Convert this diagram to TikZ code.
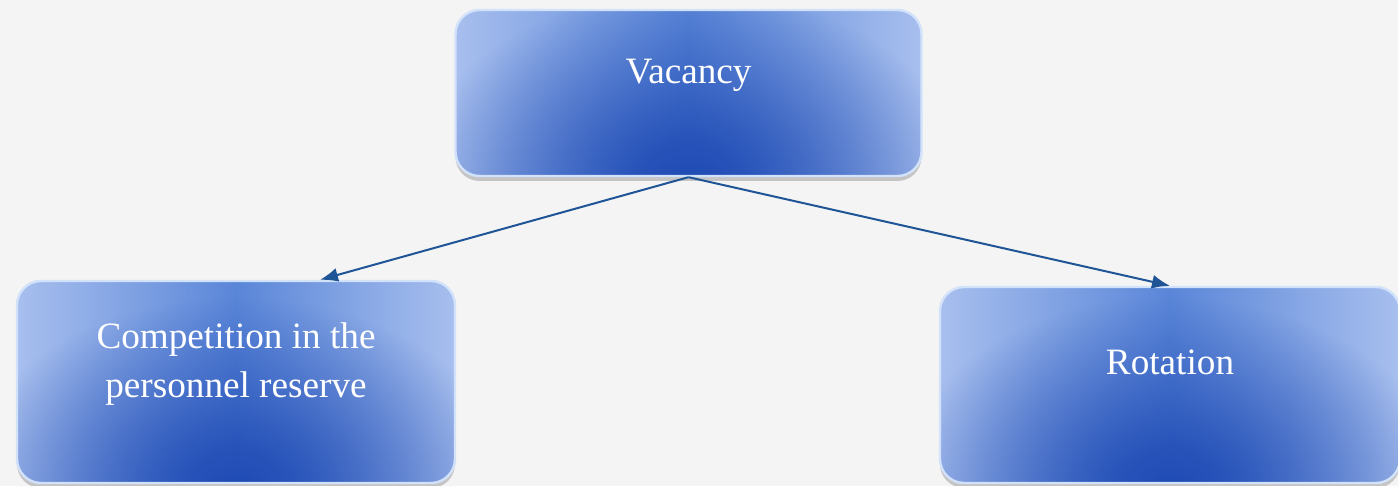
\documentclass[tikz,border=0pt]{standalone}
\usepackage{fontspec}
\setmainfont{Liberation Serif}
\usetikzlibrary{positioning, arrows.meta, shadows, fadings}
\definecolor{boxdark}{HTML}{1E4AB4}
\definecolor{boxmid}{HTML}{5A86D8}
\definecolor{boxedge}{HTML}{A8BFEE}
\definecolor{boxrim}{HTML}{D2E2FA}
\definecolor{arrowblue}{HTML}{1F5596}
\definecolor{bgpaper}{HTML}{F4F4F4}

% soft glow, opaque in the middle, gone at the rim
\pgfdeclareradialshading{glowshade}{\pgfpointorigin}{color(0bp)=(white); color(5bp)=(white!85!black); color(23bp)=(black); color(50bp)=(black)}
\pgfdeclarefading{glowfade}{\pgfuseshading{glowshade}}

\begin{document}
\begin{tikzpicture}[x=0.5pt, y=-0.5pt,
        % style for the blue boxes
        box/.style={
            rounded corners=12pt,
            draw=boxrim,
            line width=1.2pt,
            left color=boxedge, right color=boxedge, middle color=boxmid,
            path picture={\fill[boxdark, path fading=glowfade]
                ([yshift=-4pt]path picture bounding box.south) ellipse [x radius=150pt, y radius=105pt];},
            drop shadow={shadow xshift=0pt, shadow yshift=-2.5pt, opacity=0.4},
            text=white,
            font=\fontsize{18.6}{24.5}\selectfont,
            align=center
        },
        link/.style={draw=arrowblue, line width=1pt, -{Latex[length=9pt, width=7pt]}}
    ]

        % paper
        \fill[bgpaper] (0,0) rectangle (1398,486);
        \useasboundingbox (0,0) rectangle (1398,486);

        % Nodes
        \node[box, minimum width=233pt, minimum height=83pt, text depth=22pt] (vacancy) at (688.5,93) {Vacancy};
        \node[box, minimum width=219pt, minimum height=101pt, text depth=22pt] (competition) at (236,382) {Competition in the\\personnel reserve};
        \node[box, minimum width=230pt, minimum height=98pt, text depth=23pt] (rotation) at (1170,385) {Rotation};

        % Lines
        \draw[link] (vacancy.south) -- ([xshift=42pt]competition.north);
        \draw[link] (vacancy.south) -- (rotation.north);

    \end{tikzpicture}
\end{document}
